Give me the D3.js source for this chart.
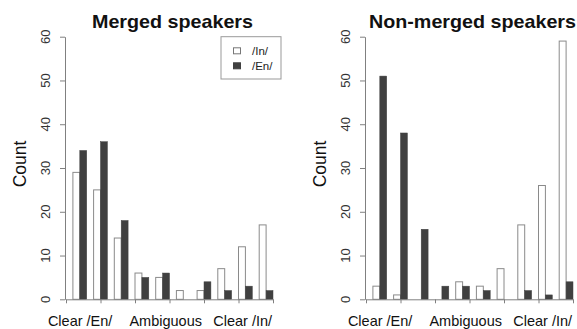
<html>
<head>
  <script src="https://d3js.org/d3.v7.min.js"></script>
  <style>
    body{ margin:0; background:#fff; }
    text{ font-family: "Liberation Sans", Arial, sans-serif; }
  </style>
</head>
<body>
  <svg id="chart" width="577" height="329"></svg>
  <script>
    // stimulus steps along the continuum
    const steps = [1, 2, 3, 4, 5, 6, 7, 8, 9, 10];
    const mergedIn = [29, 25, 14, 6, 5, 2, 2, 7, 12, 17];
    const mergedEn = [34, 36, 18, 5, 6, 0, 4, 2, 3, 2];
    const nonMergedIn = [3, 1, 0, 0, 4, 3, 7, 17, 26, 59];
    const nonMergedEn = [51, 38, 16, 3, 3, 2, 0, 2, 1, 4];
    const yTicks = [0, 10, 20, 30, 40, 50, 60];
    const xTicks = [0, 5, 10, 15, 20, 25, 30];
    const xLabels = ["Clear /En/", "Ambiguous", "Clear /In/"];
    const xLabelAt = [2.05, 14.45, 25.6];
    const seriesNames = ["/In/", "/En/"];

    const panels = [
      {title: "Merged speakers", inVals: mergedIn, enVals: mergedEn, dx: 0, titleW: 161, legend: true},
      {title: "Non-merged speakers", inVals: nonMergedIn, enVals: nonMergedEn, dx: 300, titleW: 207, legend: false}
    ];

    const axisCol = "#808080";
    const darkCol = "#404040";

    let svg = d3.select("#chart");
    let y = d3.scaleLinear().domain([0, 60]).range([299.3, 36.7]);

    panels.forEach(p => {
      let g = svg.append("g").attr("transform", `translate(${p.dx},0)`);
      let x = d3.scaleLinear().domain([0, 30]).range([66, 273]);

      // bars: white /In/ then dark /En/, one unit gap before each group
      steps.forEach((s, i) => {
        let x0 = 3 * i + 1;
        g.append("rect")
          .attr("x", x(x0)).attr("width", x(x0 + 1) - x(x0))
          .attr("y", y(p.inVals[i])).attr("height", y(0) - y(p.inVals[i]))
          .attr("fill", "#fff").attr("stroke", "#8a8a8a").attr("stroke-width", 1);
        g.append("rect")
          .attr("x", x(x0 + 1)).attr("width", x(x0 + 2) - x(x0 + 1))
          .attr("y", y(p.enVals[i])).attr("height", y(0) - y(p.enVals[i]))
          .attr("fill", darkCol).attr("stroke", darkCol).attr("stroke-width", 0.5);
      });

      // y axis
      let yAxis = g.append("g").attr("transform", "translate(65,0)")
        .call(d3.axisLeft(y).tickValues(yTicks).tickSize(5).tickSizeOuter(0).tickFormat(""));
      yAxis.selectAll("path, line").attr("stroke", axisCol);
      yTicks.forEach(t => {
        g.append("text")
          .attr("transform", `translate(50,${y(t)}) rotate(-90)`)
          .attr("text-anchor", "middle")
          .attr("font-size", 13).attr("fill", "#333")
          .text(t);
      });

      // x axis
      let xAxis = g.append("g").attr("transform", `translate(0,${y(0)})`)
        .call(d3.axisBottom(x).tickValues(xTicks).tickSize(4).tickSizeOuter(0).tickFormat(""));
      xAxis.selectAll("path, line").attr("stroke", axisCol);
      xLabels.forEach((l, i) => {
        g.append("text")
          .attr("x", x(xLabelAt[i])).attr("y", 325.5)
          .attr("text-anchor", "middle")
          .attr("font-size", 14.5).attr("fill", "#111")
          .text(l);
      });

      // y title
      g.append("text")
        .attr("transform", `translate(26,164) rotate(-90)`)
        .attr("text-anchor", "middle")
        .attr("font-size", 17.5).attr("fill", "#111")
        .text("Count");

      // panel title
      g.append("text")
        .attr("x", 172.5).attr("y", 27.5)
        .attr("text-anchor", "middle")
        .attr("font-size", 19).attr("font-weight", "bold").attr("fill", "#111")
        .attr("textLength", p.titleW).attr("lengthAdjust", "spacingAndGlyphs")
        .text(p.title);

      if (p.legend) {
        let lg = g.append("g");
        lg.append("rect").attr("x", 221).attr("y", 36.7).attr("width", 60).attr("height", 42.3)
          .attr("fill", "#fff").attr("stroke", "#999");
        seriesNames.forEach((n, i) => {
          lg.append("rect").attr("x", 233.5).attr("y", 47.8 + i * 15).attr("width", 7).attr("height", 6)
            .attr("fill", i === 0 ? "#fff" : darkCol).attr("stroke", i === 0 ? "#777" : darkCol);
          lg.append("text").attr("x", 252).attr("y", 54.5 + i * 15)
            .attr("font-size", 11.5).attr("fill", "#222")
            .text(n);
        });
      }
    });
  </script>
</body>
</html>
